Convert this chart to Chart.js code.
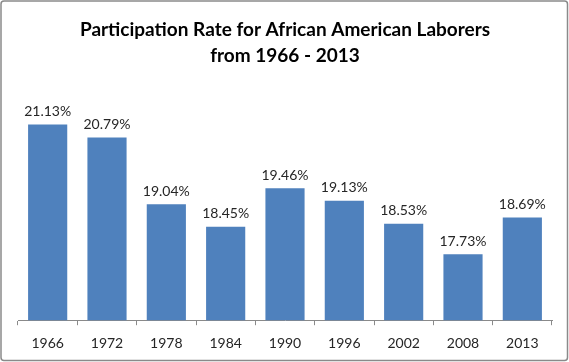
<!DOCTYPE html>
<html><head><meta charset="utf-8">
<script src="https://cdn.jsdelivr.net/npm/chart.js@4/dist/chart.umd.min.js"></script>
<style>html,body{margin:0;padding:0;background:#fff}#wrap{width:569px;height:362px;position:relative}</style>
</head><body><div id="wrap"><canvas id="c" width="569" height="362"></canvas></div>
<script>
const categories = ["1966","1972","1978","1984","1990","1996","2002","2008","2013"];
const rates = [21.13, 20.79, 19.04, 18.45, 19.46, 19.13, 18.53, 17.73, 18.69];
const titleLines = ["Participation Rate for African American Laborers", "from 1966 - 2013"];

const frame = {
  id: 'frame',
  beforeDraw(chart) {
    const ctx = chart.ctx;
    ctx.save();
    ctx.fillStyle = '#fff';
    ctx.fillRect(0, 0, chart.width, chart.height);
    ctx.strokeStyle = '#8a8a8a';
    ctx.lineWidth = 1.5;
    ctx.beginPath();
    ctx.roundRect(1, 1, chart.width - 2.5, chart.height - 2.5, 3);
    ctx.stroke();
    ctx.restore();
  }
};
const labelsPlugin = {
  id: 'valLabels',
  afterDatasetsDraw(chart) {
    const ctx = chart.ctx;
    const meta = chart.getDatasetMeta(0);
    ctx.save();
    ctx.font = '14px Lato, "Open Sans", sans-serif';
    ctx.fillStyle = '#262626';
    ctx.textAlign = 'center';
    ctx.textBaseline = 'bottom';
    meta.data.forEach((bar, i) => {
      ctx.fillText(rates[i].toFixed(2) + '%', bar.x, bar.y - 6);
    });
    ctx.restore();
  }
};

new Chart(document.getElementById('c'), {
  type: 'bar',
  data: {
    labels: categories,
    datasets: [{
      data: rates,
      backgroundColor: '#4F81BD',
      borderWidth: 0,
      categoryPercentage: 0.66,
      barPercentage: 1.0
    }]
  },
  options: {
    responsive: false,
    animation: false,
    events: [],
    layout: { padding: { left: 18, right: 17, top: 0, bottom: 0 } },
    plugins: {
      legend: { display: false },
      tooltip: { enabled: false },
      title: {
        display: true,
        text: titleLines,
        color: '#000',
        font: { family: 'Lato, "Open Sans", sans-serif', size: 19, weight: 'bold', lineHeight: 1.35 },
        padding: { top: 17, bottom: 23 }
      }
    },
    scales: {
      y: { display: false, min: 16, max: 22 },
      x: {
        offset: true,
        border: { display: true, color: '#8a8a8a', width: 1 },
        grid: { offset: true, drawOnChartArea: false, drawTicks: true, tickLength: 5, color: '#8a8a8a' },
        ticks: { color: '#262626', font: { family: 'Lato, "Open Sans", sans-serif', size: 14 }, padding: 10 }
      }
    }
  },
  plugins: [frame, labelsPlugin]
});
</script></body></html>
